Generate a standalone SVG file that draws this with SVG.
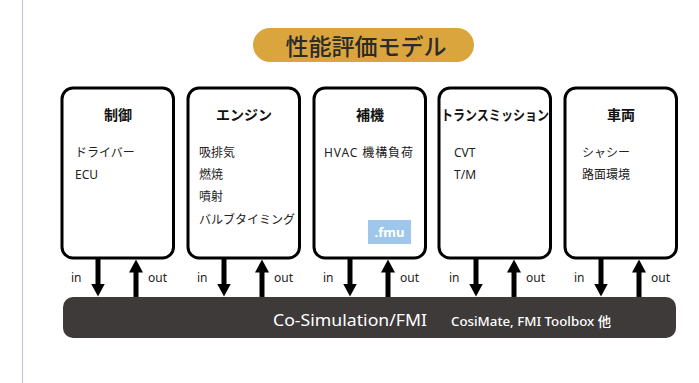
<svg xmlns="http://www.w3.org/2000/svg" width="699" height="383" viewBox="0 0 699 383">
<style>
text{font-family:"Noto Sans","Noto Sans CJK JP",sans-serif;}
.box{fill:#fff;stroke:#000;stroke-width:3;}
.ttl{font-size:14px;font-weight:700;fill:#111;text-anchor:middle;}
.bd{font-size:12px;fill:#222;}
.io{font-size:12px;fill:#222;}
.sh{stroke:#000;stroke-width:5;}
</style>
<defs>
<marker id="ah" viewBox="0 0 13 14" refX="0.5" refY="7" markerWidth="13" markerHeight="14" markerUnits="userSpaceOnUse" orient="auto">
<path d="M0,0L13,7L0,14Z" fill="#000"/>
</marker>
</defs>
<line x1="22.5" y1="0" x2="22.5" y2="383" stroke="#c0c6df" stroke-width="1.2"/>
<g id="title">
<rect x="253" y="28" width="221" height="34" rx="17" fill="#dba53e"/>
<text x="366" y="55" font-size="23" font-weight="500" fill="#2b2b2b" text-anchor="middle">性能評価モデル</text>
</g>
<g id="node-control">
<rect class="box" x="62" y="88" width="111.5" height="170" rx="11"/>
<text class="ttl" x="118" y="120">制御</text>
<text class="bd" x="75" y="157">ドライバー</text>
<text class="bd" x="75" y="179">ECU</text>
</g>
<g id="node-engine">
<rect class="box" x="188" y="88" width="111.5" height="170" rx="11"/>
<text class="ttl" x="244" y="120">エンジン</text>
<text class="bd" x="199" y="157">吸排気</text>
<text class="bd" x="199" y="179">燃焼</text>
<text class="bd" x="199" y="201">噴射</text>
<text class="bd" x="199" y="224">バルブタイミング</text>
</g>
<g id="node-aux">
<rect class="box" x="314" y="88" width="111.5" height="170" rx="11"/>
<text class="ttl" x="370" y="120">補機</text>
<text class="bd" x="324" y="157" textLength="89">HVAC 機構負荷</text>
<rect x="368" y="220" width="43" height="24" fill="#9fc7ec"/>
<text x="389.5" y="237" font-size="13" font-weight="700" fill="#fff" text-anchor="middle">.fmu</text>
</g>
<g id="node-transmission">
<rect class="box" x="439" y="88" width="111.5" height="170" rx="11"/>
<text class="ttl" x="495" y="120" textLength="108" lengthAdjust="spacingAndGlyphs">トランスミッション</text>
<text class="bd" x="454" y="157">CVT</text>
<text class="bd" x="454" y="179">T/M</text>
</g>
<g id="node-vehicle">
<rect class="box" x="565" y="88" width="111.5" height="170" rx="11"/>
<text class="ttl" x="621" y="120">車両</text>
<text class="bd" x="582" y="157">シャシー</text>
<text class="bd" x="582" y="179">路面環境</text>
</g>
<g id="node-cosim">
<rect x="63" y="297" width="613" height="41" rx="10" fill="#3e3a39"/>
<text x="273" y="326" font-size="17" fill="#fff" textLength="154" lengthAdjust="spacingAndGlyphs">Co-Simulation/FMI</text>
<text x="451" y="326" font-size="13" font-weight="500" fill="#fff" textLength="160" lengthAdjust="spacingAndGlyphs">CosiMate, FMI Toolbox 他</text>
</g>
<g id="connectors">
<line class="sh" x1="98" y1="259" x2="98" y2="284" marker-end="url(#ah)"/>
<line class="sh" x1="136" y1="297" x2="136" y2="272" marker-end="url(#ah)"/>
<line class="sh" x1="224" y1="259" x2="224" y2="284" marker-end="url(#ah)"/>
<line class="sh" x1="262" y1="297" x2="262" y2="272" marker-end="url(#ah)"/>
<line class="sh" x1="350" y1="259" x2="350" y2="284" marker-end="url(#ah)"/>
<line class="sh" x1="388" y1="297" x2="388" y2="272" marker-end="url(#ah)"/>
<line class="sh" x1="476" y1="259" x2="476" y2="284" marker-end="url(#ah)"/>
<line class="sh" x1="514" y1="297" x2="514" y2="272" marker-end="url(#ah)"/>
<line class="sh" x1="601" y1="259" x2="601" y2="284" marker-end="url(#ah)"/>
<line class="sh" x1="639" y1="297" x2="639" y2="272" marker-end="url(#ah)"/>
<text class="io" x="71" y="282">in</text>
<text class="io" x="148" y="282">out</text>
<text class="io" x="197" y="282">in</text>
<text class="io" x="274" y="282">out</text>
<text class="io" x="323" y="282">in</text>
<text class="io" x="400" y="282">out</text>
<text class="io" x="449" y="282">in</text>
<text class="io" x="526" y="282">out</text>
<text class="io" x="574" y="282">in</text>
<text class="io" x="651" y="282">out</text>
</g>
</svg>
